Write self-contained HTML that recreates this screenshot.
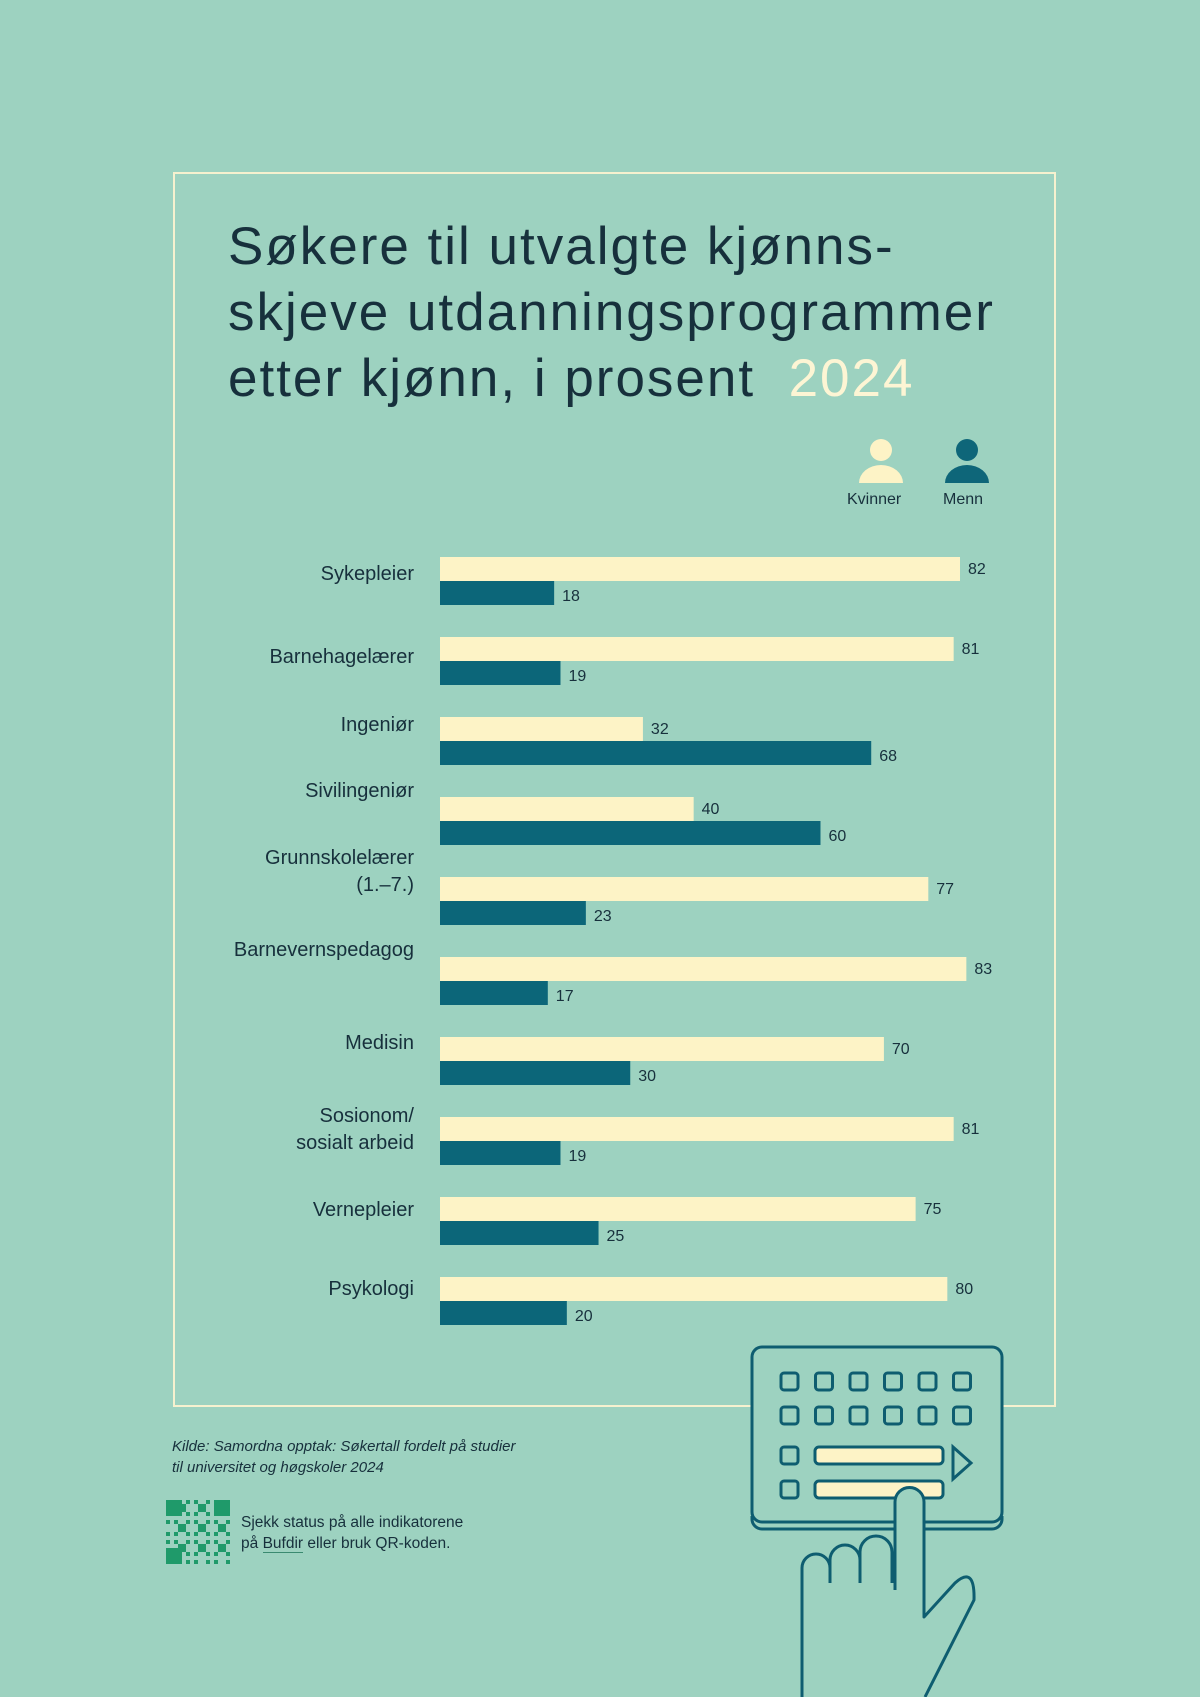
<!DOCTYPE html>
<html><head><meta charset="utf-8"><style>
html,body{margin:0;padding:0}
body{width:1200px;height:1697px;background:#9dd2c0;position:relative;overflow:hidden;font-family:"Liberation Sans",sans-serif;color:#17303c}
#frame{position:absolute;left:173px;top:172px;width:883px;height:1235px;border:2px solid #f6f1cf;box-sizing:border-box}
#title{position:absolute;left:228px;top:214px;font-size:53px;line-height:66px;color:#17303c;letter-spacing:2px;white-space:nowrap}
#title .yr{color:#fdf5d4}
.leg{position:absolute;font-size:16px;top:491px}
#src{position:absolute;left:172px;top:1436px;font-size:15px;font-style:italic;line-height:21px}
#qrt{position:absolute;left:241px;top:1512px;font-size:15.5px;line-height:21px}
</style></head><body>
<div id="frame"></div>
<div id="title">Søkere til utvalgte kjønns-<br>skjeve utdanningsprogrammer<br>etter kjønn, i prosent&nbsp; <span class="yr">2024</span></div>
<svg width="1200" height="1697" style="position:absolute;left:0;top:0" id="chart">
<g><circle cx="881" cy="450" r="11" fill="#fdf3c6"/><path d="M859 483 a22 18 0 0 1 44 0 z" fill="#fdf3c6"/></g>
<g><circle cx="967" cy="450" r="11" fill="#0e6679"/><path d="M945 483 a22 18 0 0 1 44 0 z" fill="#0e6679"/></g>
<g id="bars"></g>
<g fill="none" stroke="#0e5d70" stroke-width="3">
<rect x="752" y="1347" width="250" height="175" rx="10" fill="#9dd2c0"/>
<path d="M752 1516 v3 a10 10 0 0 0 10 10 h230 a10 10 0 0 0 10 -10 v-3"/>
<g id="keys"></g>
<rect x="815" y="1447" width="128" height="17" rx="4" fill="#fdf3c6"/>
<rect x="815" y="1481" width="128" height="17" rx="4" fill="#fdf3c6"/>
<path d="M953 1447 l18 16 l-18 16 z"/>
</g>
<g fill="#9dd2c0" stroke="#0e5d70" stroke-width="3" stroke-linejoin="round">
<path d="M802 1697 V1568 a14 14 0 0 1 28 0 V1583 M830 1583 V1560 a15 15 0 0 1 30 0 V1583 M860 1583 V1552 a16 16 0 0 1 32 0 V1583" fill="none"/>
<path d="M895 1590 V1502 a14.5 14.5 0 0 1 29 0 V1617 L955 1583 Q975 1565 974 1600 L925 1697" fill="#9dd2c0"/>
</g>
<g id="qr"></g>
</svg>
<div class="leg" style="left:847px">Kvinner</div>
<div class="leg" style="left:943px">Menn</div>
<div id="src">Kilde: Samordna opptak: Søkertall fordelt på studier<br>til universitet og høgskoler 2024</div>
<div id="qrt">Sjekk status på alle indikatorene<br>på <span style="border-bottom:1px solid #3a8a70">Bufdir</span> eller bruk QR-koden.</div>
<script>
const categories=["Sykepleier","Barnehagelærer","Ingeniør","Sivilingeniør","Grunnskolelærer|(1.–7.)","Barnevernspedagog","Medisin","Sosionom/|sosialt arbeid","Vernepleier","Psykologi"];
const kvinner=[82,81,32,40,77,83,70,81,75,80];
const menn=[18,19,68,60,23,17,30,19,25,20];
const labelShift=[4,7,-5,-19,-19,-20,-7,-1,0,-1];
const NS="http://www.w3.org/2000/svg";
const x0=440, pxPer=520/82, y0=557, step=80, bh=24;
const xs=v=>v*pxPer;
const g=document.getElementById('bars');
function mk(t,a){const e=document.createElementNS(NS,t);for(const k in a)e.setAttribute(k,a[k]);return e;}
categories.forEach((c,i)=>{
  const y=y0+i*step;
  const r1=mk('rect',{x:x0,y:y,width:xs(kvinner[i]),height:bh,fill:'#fdf3c6'});
  
  
  g.appendChild(r1);
  const r2=mk('rect',{x:x0,y:y+bh,width:xs(menn[i]),height:bh,fill:'#0c6679'});
  
  
  g.appendChild(r2);
  const t1=mk('text',{x:x0+xs(kvinner[i])+8,y:y+17,'font-size':16,fill:'#17303c','font-family':'Liberation Sans'});
  t1.textContent=kvinner[i];
  
  
  g.appendChild(t1);
  const t2=mk('text',{x:x0+xs(menn[i])+8,y:y+bh+20,'font-size':16,fill:'#17303c','font-family':'Liberation Sans'});
  t2.textContent=menn[i];
  
  
  g.appendChild(t2);
  const parts=c.split('|');
  const baseY=y+19+labelShift[i]-(parts.length-1)*13;
  parts.forEach((p,j)=>{
    const t=mk('text',{x:414,y:baseY+j*27,'font-size':20,'text-anchor':'end',fill:'#17303c','font-family':'Liberation Sans'});
    t.textContent=p;
    
    
    g.appendChild(t);
  });
});
const keys=document.getElementById('keys');
for(let r=0;r<2;r++)for(let c=0;c<6;c++){keys.appendChild(mk('rect',{x:781+c*34.5,y:1373+r*34,width:17,height:17,rx:3}));}
keys.appendChild(mk('rect',{x:781,y:1447,width:17,height:17,rx:3}));
keys.appendChild(mk('rect',{x:781,y:1481,width:17,height:17,rx:3}));
const qr=document.getElementById('qr');
for(let r=0;r<16;r++)for(let c=0;c<16;c++){
  const corner=(r<4&&c<4)||(r<4&&c>11)||(r>11&&c<4);
  const on=corner?((r%4==0||r%4==3||c%4==0||c%4==3)||((r%4==1||r%4==2)&&(c%4==1||c%4==2))):((r*7+c*13+r*c*3)%5<2);
  if(on)qr.appendChild(mk('rect',{x:166+c*4,y:1500+r*4,width:4,height:4,fill:'#1f9a6a'}));
}
</script>
</body></html>
